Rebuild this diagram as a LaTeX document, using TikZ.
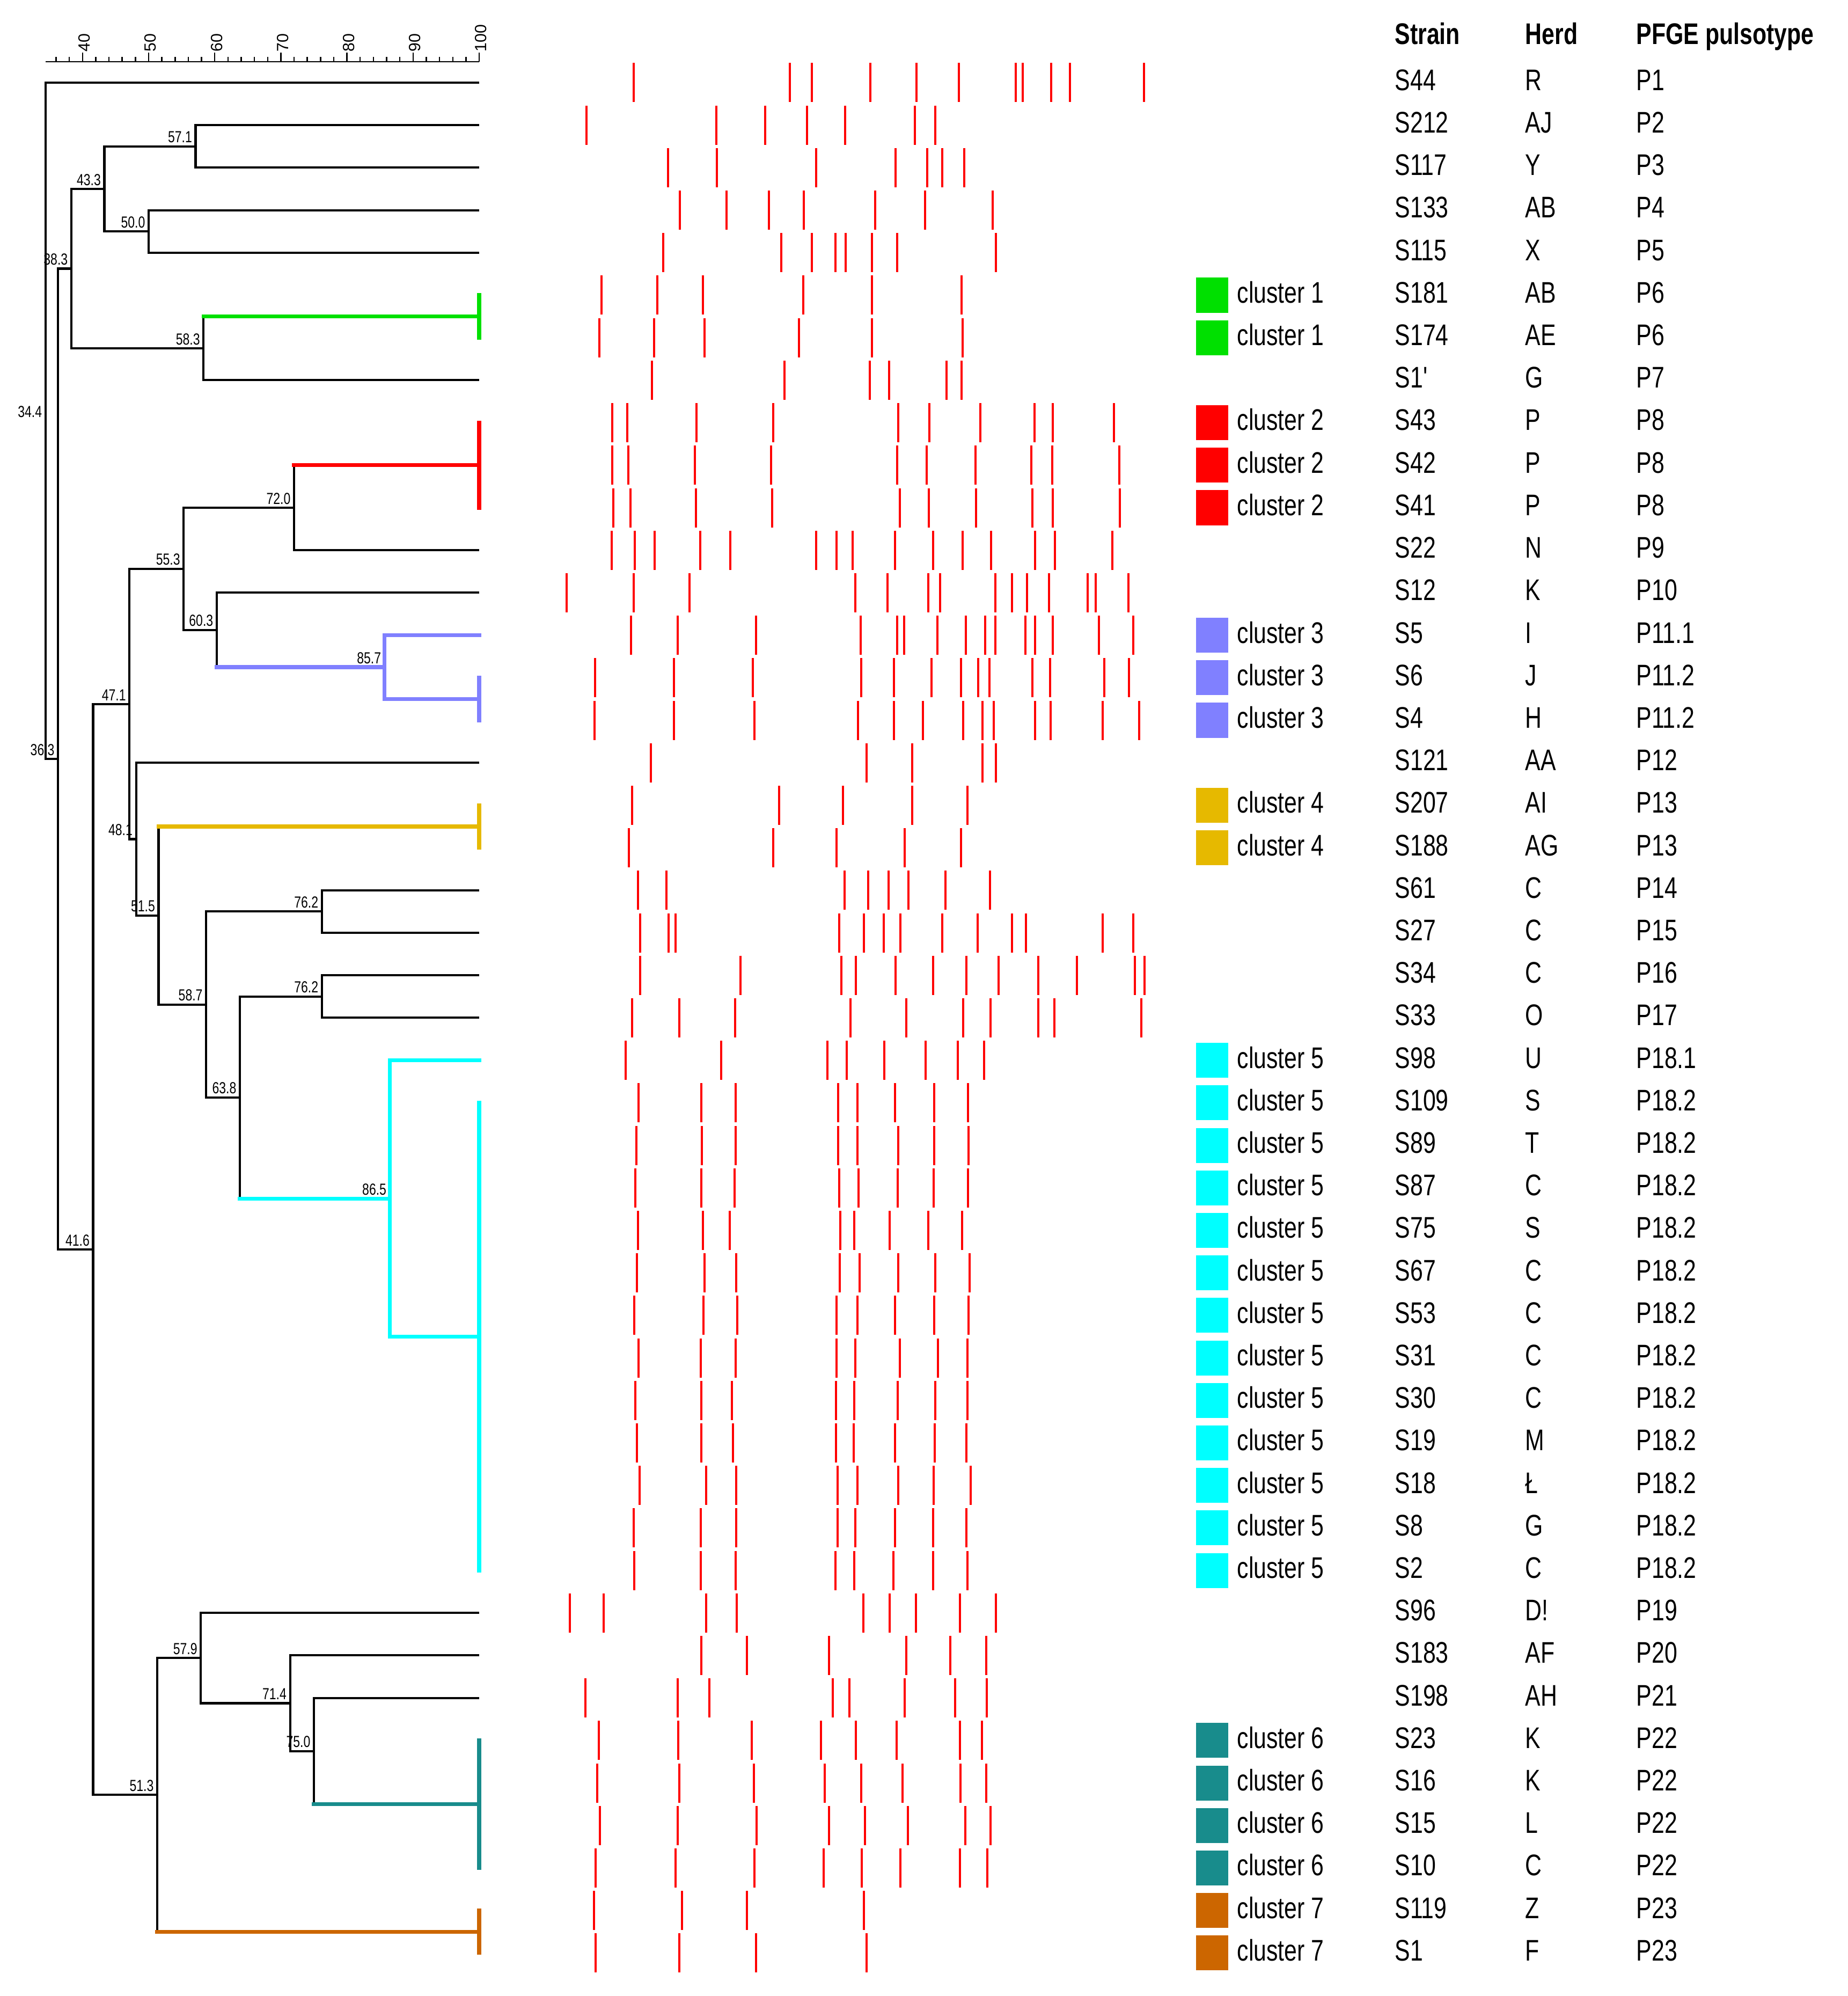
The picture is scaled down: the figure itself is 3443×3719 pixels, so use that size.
\documentclass[tikz,border=0pt]{standalone}
\usepackage{fontspec}
\newfontfamily\labfont[FakeStretch=0.77]{Liberation Sans}
\newfontfamily\axisfont{Liberation Sans}
\definecolor{clu1}{RGB}{0,224,0}
\definecolor{clu2}{RGB}{255,0,0}
\definecolor{clu3}{RGB}{128,128,255}
\definecolor{clu4}{RGB}{230,185,0}
\definecolor{clu5}{RGB}{0,255,255}
\definecolor{clu6}{RGB}{24,140,140}
\definecolor{clu7}{RGB}{204,102,0}

\begin{document}
\begin{tikzpicture}[x=0.01cm, y=-0.01cm, font=\labfont\fontsize{15.8pt}{18pt}\selectfont]
\tikzset{branch/.style={draw=black, line width=1.17pt}}
\tikzset{cluline/.style={draw=clu#1, line width=2pt, line cap=rect}}
\tikzset{band/.style={draw=red, line width=1pt}}
\tikzset{tick/.style={draw=black, line width=0.7pt}}
\tikzset{val/.style={anchor=south east, inner sep=1.7pt, font=\labfont\fontsize{8.5pt}{10pt}\selectfont}}
\tikzset{axlab/.style={rotate=90, anchor=west, inner sep=0pt, font=\axisfont\fontsize{8.6pt}{10pt}\selectfont}}
\tikzset{cell/.style={anchor=base west, inner sep=0pt}}
\tikzset{cbox/.style={minimum width=0.6cm, minimum height=0.65cm, inner sep=0pt}}
\useasboundingbox (0,0) rectangle (3443,3719);

\coordinate (axL) at (84.8,115);
\coordinate (axR) at (893,115);
\draw[tick, line width=0.82pt] (axL) -- (axR);
\foreach \v in {36,38,...,98}
  \draw[tick] ({893-(100-\v)*12.32},115) -- ++(0,-9);
\foreach \v in {40,50,...,100} {
  \draw[tick] ({893-(100-\v)*12.32},115) -- ++(0,-17);
  \node[axlab] (a\v) at ({896.5-(100-\v)*12.32},97) {\v};
}

\foreach \i in {0,...,44}
  \coordinate (l\i) at (893,{154+79.2*\i});
\coordinate (k1) at (893,589.6);
\coordinate (k2) at (893,866.8);
\coordinate (k3) at (893,1302.4);
\coordinate (k4) at (893,1540);
\coordinate (k5) at (893,2490.4);
\coordinate (k6) at (893,3361.6);
\coordinate (k7) at (893,3599.2);

\coordinate (n344) at (84.8,784.1);
\coordinate (n363) at (108.2,1414.2);
\coordinate (n383) at (132.9,500.5);
\coordinate (n433) at (194.5,352);
\coordinate (n571) at (364.5,272.8);
\coordinate (n500) at (277,431.2);
\coordinate (n583) at (379.3,649);
\coordinate (n416) at (173.5,2328);
\coordinate (n471) at (241.3,1311.7);
\coordinate (n553) at (342.3,1059.9);
\coordinate (n720) at (548,946);
\coordinate (n603) at (403.9,1173.7);
\coordinate (n857) at (716.8,1243);
\coordinate (n481) at (253.6,1563.5);
\coordinate (n515) at (295.5,1705.8);
\coordinate (n587) at (384.2,1871.7);
\coordinate (n762a) at (599.8,1698.4);
\coordinate (n762b) at (599.8,1856.8);
\coordinate (n638) at (447,2044.9);
\coordinate (n865) at (726.7,2233);
\coordinate (n513) at (293,3344.3);
\coordinate (n579) at (374.3,3089.4);
\coordinate (n714) at (540.6,3173.5);
\coordinate (n750) at (585,3262.6);

\foreach \a/\p/\b in {l0/n344/n363, n383/n363/n416, n433/n383/n583, n571/n433/n500,
  l1/n571/l2, l3/n500/l4, n471/n416/n513, n553/n471/n481, n720/n553/n603,
  l16/n481/n515, n762a/n587/n638, l19/n762a/l20, l21/n762b/l22,
  l36/n579/n714, l37/n714/n750}
  \draw[branch] (\a) -| (\p) |- (\b);

\draw[branch] (n583 |- k1) |- (l7);
\draw[cluline=1] (n583 |- k1) -- (k1);
\draw[branch] (n720 |- k2) |- (l11);
\draw[cluline=2] (n720 |- k2) -- (k2);
\draw[branch] (l12) -| (n603 |- n857);
\draw[cluline=3] (n603 |- n857) -- (n857);
\draw[cluline=3] (l13) -| (n857) |- (k3);
\draw[branch] (n515 |- k4) |- (n587);
\draw[cluline=4] (n515 |- k4) -- (k4);
\draw[branch] (n762b) -| (n638 |- n865);
\draw[cluline=5] (n638 |- n865) -- (n865);
\draw[cluline=5] (l23) -| (n865) |- (k5);
\draw[branch] (l38) -| (n750 |- k6);
\draw[cluline=6] (n750 |- k6) -- (k6);
\draw[branch] (n579) -| (n513 |- k7);
\draw[cluline=7] (n513 |- k7) -- (k7);
\foreach \c/\a/\b in {1/l5/l6, 2/l8/l10, 3/l14/l15, 4/l17/l18, 5/l24/l35, 6/l39/l42, 7/l43/l44}
  \draw[cluline=\c] (\a) -- (\b);

\foreach \n/\v in {n344/34.4, n363/36.3, n383/38.3, n433/43.3, n571/57.1, n500/50.0,
  n583/58.3, n416/41.6, n471/47.1, n553/55.3, n720/72.0, n603/60.3, n857/85.7,
  n481/48.1, n515/51.5, n587/58.7, n762a/76.2, n762b/76.2, n638/63.8, n865/86.5,
  n513/51.3, n579/57.9, n714/71.4, n750/75.0}
  \node[val] (t\n) at (\n) {\v};

\foreach \r/\lst in {
  0/{1181,1472,1513,1622,1708,1787,1893,1906,1959,1994,2132},
  1/{1093,1335,1426,1504,1575,1705,1743},
  2/{1245,1336,1521,1669,1728,1756,1797},
  3/{1267,1354,1433,1498,1631,1724,1850},
  4/{1236,1456,1513,1557,1576,1625,1672,1856},
  5/{1121,1225,1310,1497,1625,1792},
  6/{1117,1219,1313,1489,1625,1794},
  7/{1215,1462,1621,1657,1764,1792},
  8/{1141,1169,1298,1441,1674,1732,1827,1928,1962,2076},
  9/{1141,1171,1295,1437,1672,1727,1818,1922,1961,2086},
  10/{1143,1175,1297,1439,1677,1731,1819,1924,1962,2087},
  11/{1140,1183,1220,1305,1361,1521,1559,1589,1668,1739,1794,1847,1929,1966,2073},
  12/{1056,1181,1285,1594,1654,1730,1752,1855,1886,1914,1955,2027,2042,2103},
  13/{1176,1263,1409,1604,1672,1685,1747,1800,1836,1855,1911,1929,1962,2048,2112},
  14/{1109,1256,1403,1605,1666,1736,1791,1823,1844,1924,1957,2058,2104},
  15/{1108,1256,1406,1599,1666,1720,1795,1831,1852,1929,1958,2055,2123},
  16/{1213,1615,1700,1831,1856},
  17/{1178,1452,1571,1700,1803},
  18/{1172,1441,1559,1686,1791},
  19/{1189,1242,1574,1618,1656,1693,1762,1845},
  20/{1193,1246,1259,1564,1610,1647,1678,1756,1822,1886,1912,2055,2112},
  21/{1193,1380,1568,1595,1669,1739,1801,1861,1935,2007,2115,2133},
  22/{1178,1266,1370,1585,1689,1795,1846,1935,1965,2127},
  23/{1166,1344,1542,1578,1648,1725,1785,1834},
  24/{1190,1307,1371,1562,1598,1668,1741,1804},
  25/{1186,1308,1371,1562,1598,1674,1741,1805},
  26/{1184,1307,1369,1564,1600,1673,1740,1804},
  27/{1189,1310,1360,1566,1592,1658,1730,1793},
  28/{1187,1313,1372,1565,1602,1674,1743,1807},
  29/{1182,1311,1374,1559,1598,1668,1741,1805},
  30/{1190,1306,1371,1559,1594,1677,1748,1803},
  31/{1184,1307,1364,1558,1592,1673,1743,1803},
  32/{1187,1307,1366,1558,1591,1668,1742,1801},
  33/{1192,1316,1372,1561,1598,1674,1740,1809},
  34/{1181,1306,1372,1561,1594,1668,1739,1801},
  35/{1182,1306,1371,1557,1592,1665,1739,1803},
  36/{1062,1125,1316,1373,1609,1658,1707,1789,1856},
  37/{1307,1392,1545,1689,1771,1838},
  38/{1091,1263,1322,1552,1583,1686,1780,1839},
  39/{1116,1264,1401,1530,1595,1671,1789,1830},
  40/{1113,1266,1405,1537,1605,1682,1790,1838},
  41/{1118,1263,1410,1545,1612,1692,1799,1846},
  42/{1110,1259,1406,1535,1606,1678,1789,1840},
  43/{1107,1271,1392,1610},
  44/{1110,1266,1409,1615}}{
  \foreach \b in \lst
    \draw[band] (\b,{154+79.2*\r-36.5}) -- ++(0,73);
}

\node[cell, font=\labfont\bfseries\fontsize{15.8pt}{18pt}\selectfont] (hs) at (2599,82.4) {Strain};
\node[cell, font=\labfont\bfseries\fontsize{15.8pt}{18pt}\selectfont] (hh) at (2842,82.4) {Herd};
\node[cell, font=\labfont\bfseries\fontsize{15.8pt}{18pt}\selectfont] (hp) at (3049,82.4) {PFGE pulsotype};

\foreach \i/\s/\h/\p in {0/S44/R/P1, 1/S212/AJ/P2, 2/S117/Y/P3, 3/S133/AB/P4, 4/S115/X/P5,
  5/S181/AB/P6, 6/S174/AE/P6, 7/S1'/G/P7, 8/S43/P/P8, 9/S42/P/P8, 10/S41/P/P8,
  11/S22/N/P9, 12/S12/K/P10, 13/S5/I/P11.1, 14/S6/J/P11.2, 15/S4/H/P11.2,
  16/S121/AA/P12, 17/S207/AI/P13, 18/S188/AG/P13, 19/S61/C/P14, 20/S27/C/P15,
  21/S34/C/P16, 22/S33/O/P17, 23/S98/U/P18.1, 24/S109/S/P18.2, 25/S89/T/P18.2,
  26/S87/C/P18.2, 27/S75/S/P18.2, 28/S67/C/P18.2, 29/S53/C/P18.2, 30/S31/C/P18.2,
  31/S30/C/P18.2, 32/S19/M/P18.2, 33/S18/Ł/P18.2, 34/S8/G/P18.2, 35/S2/C/P18.2,
  36/S96/D!/P19, 37/S183/AF/P20, 38/S198/AH/P21, 39/S23/K/P22, 40/S16/K/P22,
  41/S15/L/P22, 42/S10/C/P22, 43/S119/Z/P23, 44/S1/F/P23} {
  \node[cell] (s\i) at (2599,{168.4+79.2*\i}) {\s};
  \node[cell] (h\i) at (2842,{168.4+79.2*\i}) {\h};
  \node[cell] (p\i) at (3049,{168.4+79.2*\i}) {\p};
}

\foreach \i/\c in {5/1, 6/1, 8/2, 9/2, 10/2, 13/3, 14/3, 15/3, 17/4, 18/4,
  23/5, 24/5, 25/5, 26/5, 27/5, 28/5, 29/5, 30/5, 31/5, 32/5, 33/5, 34/5, 35/5,
  39/6, 40/6, 41/6, 42/6, 43/7, 44/7} {
  \node[cbox, fill=clu\c] (b\i) at (2259,{154+79.2*\i}) {};
  \node[cell] (c\i) at (2305,{168.4+79.2*\i}) {cluster \c};
}
\end{tikzpicture}
\end{document}
